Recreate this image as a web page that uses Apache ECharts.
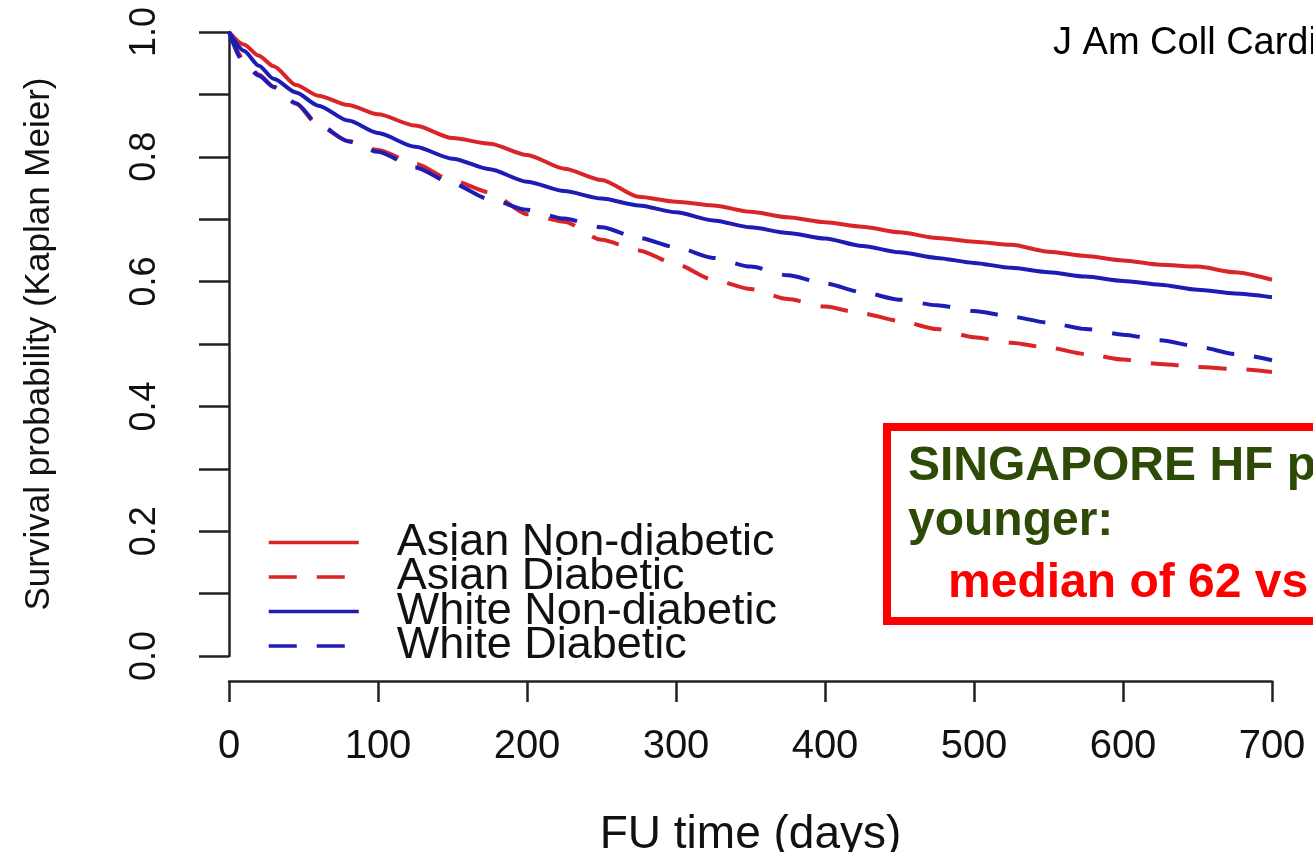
<!DOCTYPE html>
<html>
<head>
<meta charset="utf-8">
<script src="https://cdn.jsdelivr.net/npm/echarts@6/dist/echarts.min.js"></script>
<style>
  html, body { margin: 0; padding: 0; background: #fff; }
  #chart { width: 1313px; height: 852px; }
</style>
</head>
<body>
<div id="chart"></div>
<script>
// follow-up time (days)
const times = [0, 10, 20, 30, 45, 60, 80, 100, 125, 150, 175, 200, 225, 250, 275, 300,
  325, 350, 375, 400, 425, 450, 475, 500, 525, 550, 575, 600, 625, 650, 675, 700];

// Kaplan-Meier survival
const asianNonDiabetic = [1.0, 0.98, 0.962, 0.945, 0.915, 0.898, 0.883, 0.868, 0.850, 0.830, 0.821, 0.803,
  0.781, 0.763, 0.736, 0.728, 0.722, 0.712, 0.703, 0.695, 0.688, 0.679, 0.670, 0.664, 0.659, 0.648,
  0.641, 0.634, 0.627, 0.624, 0.615, 0.603];
const asianDiabetic = [1.0, 0.955, 0.932, 0.912, 0.885, 0.850, 0.825, 0.811, 0.789, 0.762, 0.743, 0.708,
  0.696, 0.667, 0.650, 0.628, 0.603, 0.588, 0.572, 0.560, 0.549, 0.537, 0.524, 0.511, 0.502, 0.494,
  0.484, 0.475, 0.468, 0.463, 0.460, 0.455];
const whiteNonDiabetic = [1.0, 0.970, 0.946, 0.925, 0.903, 0.882, 0.858, 0.838, 0.816, 0.797, 0.780, 0.760,
  0.745, 0.733, 0.722, 0.711, 0.698, 0.687, 0.678, 0.669, 0.657, 0.647, 0.638, 0.630, 0.622, 0.615,
  0.608, 0.601, 0.595, 0.587, 0.581, 0.575];
const whiteDiabetic = [1.0, 0.950, 0.930, 0.912, 0.886, 0.852, 0.825, 0.808, 0.783, 0.757, 0.732, 0.715,
  0.701, 0.687, 0.670, 0.655, 0.638, 0.624, 0.610, 0.597, 0.583, 0.571, 0.562, 0.553, 0.544, 0.534,
  0.524, 0.515, 0.506, 0.496, 0.484, 0.474];

const seriesNames = ['Asian Non-diabetic', 'Asian Diabetic', 'White Non-diabetic', 'White Diabetic'];

const RED = '#d92527';
const BLUE = '#1d1db6';
const FONT = '"Liberation Sans", Arial, sans-serif';

const pairs = (vals) => times.map((t, i) => [t, vals[i]]);

function curve(name, vals, color, dashed) {
  return {
    name: name,
    type: 'line',
    data: pairs(vals),
    symbol: 'none',
    showSymbol: false,
    smooth: 0.25,
    smoothMonotone: 'x',
    lineStyle: { color: color, width: 4, type: dashed ? [28, 20] : 'solid' },
    itemStyle: { color: color },
  };
}

const chart = echarts.init(document.getElementById('chart'));
chart.setOption({
  animation: false,
  backgroundColor: '#fff',
  grid: { left: 229, right: 41, top: 32, bottom: 196, containLabel: false, outerBoundsMode: 'none' },
  legend: {
    data: seriesNames,
    orient: 'vertical',
    left: 262,
    top: 515,
    padding: 5,
    itemWidth: 90,
    itemHeight: 20,
    itemGap: -10.5,
    itemStyle: { opacity: 0 },
    lineStyle: { width: 3.5 },
    textStyle: { fontFamily: FONT, fontSize: 45, color: '#111', padding: [0, 0, 0, 33] },
  },
  xAxis: {
    type: 'value',
    min: 0,
    max: 700,
    interval: 100,
    offset: 25,
    name: 'FU time (days)',
    nameLocation: 'middle',
    nameGap: 131,
    nameTextStyle: { fontFamily: FONT, fontSize: 46, color: '#111' },
    axisLine: { show: true, onZero: false, lineStyle: { color: '#222', width: 2.5 } },
    axisTick: { show: true, length: 21, lineStyle: { color: '#222', width: 2.5 } },
    axisLabel: { fontFamily: FONT, fontSize: 40, color: '#111', margin: 46 },
    splitLine: { show: false },
  },
  yAxis: {
    type: 'value',
    min: 0,
    max: 1,
    interval: 0.1,
    name: 'Survival probability (Kaplan Meier)',
    nameLocation: 'middle',
    nameRotate: 90,
    nameGap: 172,
    nameTextStyle: { fontFamily: FONT, fontSize: 35, color: '#111' },
    axisLine: { show: true, onZero: false, lineStyle: { color: '#222', width: 2.5 } },
    axisTick: { show: true, length: 30, lineStyle: { color: '#222', width: 2.5 } },
    axisLabel: {
      fontFamily: FONT, fontSize: 36, color: '#111', rotate: 90, margin: 66,
      formatter: (v) => (Math.round(v * 10) % 2 === 0 ? v.toFixed(1) : ''),
    },
    splitLine: { show: false },
  },
  series: [
    curve(seriesNames[0], asianNonDiabetic, RED, false),
    curve(seriesNames[1], asianDiabetic, RED, true),
    curve(seriesNames[2], whiteNonDiabetic, BLUE, false),
    curve(seriesNames[3], whiteDiabetic, BLUE, true),
  ],
  graphic: [
    {
      type: 'text', left: 1053, top: 25,
      style: { text: 'J Am Coll Cardiol', fontFamily: FONT, fontSize: 38, fill: '#000' },
    },
    {
      type: 'rect', shape: { x: 887, y: 427, width: 600, height: 194 },
      style: { fill: '#fff', stroke: '#ff0000', lineWidth: 8 },
    },
    {
      type: 'text', x: 908, y: 467,
      style: { text: 'SINGAPORE HF patients', fontFamily: FONT, fontSize: 48, fontWeight: 'bold', fill: '#2e4a07', verticalAlign: 'middle' },
    },
    {
      type: 'text', x: 908, y: 522,
      style: { text: 'younger:', fontFamily: FONT, fontSize: 48, fontWeight: 'bold', fill: '#2e4a07', verticalAlign: 'middle' },
    },
    {
      type: 'text', x: 948, y: 584,
      style: { text: 'median of 62 vs', fontFamily: FONT, fontSize: 48, fontWeight: 'bold', fill: '#ff0000', verticalAlign: 'middle' },
    },
  ],
});
</script>
</body>
</html>
